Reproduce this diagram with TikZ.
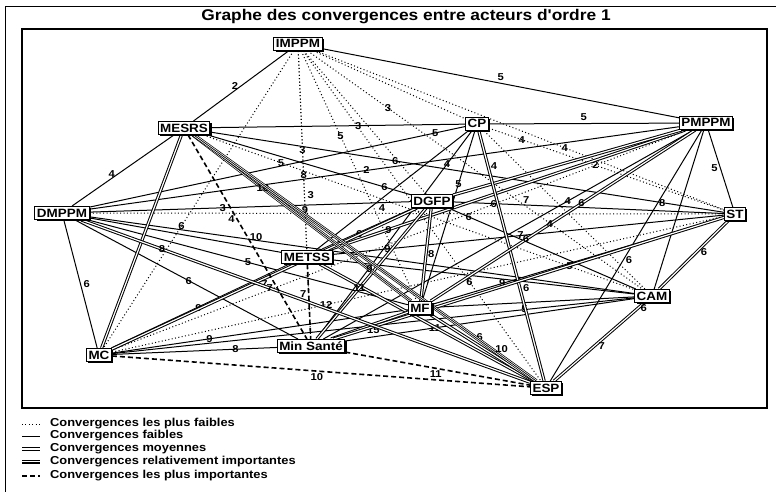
\documentclass[tikz,border=0pt]{standalone}
\usepackage{fontspec}
\newfontfamily\diagfont[FakeStretch=1.12]{Liberation Sans}
\usetikzlibrary{shadows}
\pgfdeclarelayer{edges}
\pgfsetlayers{edges,main}

\tikzset{
  actor/.style={draw, line width=1pt, fill=white, inner xsep=2pt, inner ysep=1.5pt,
    text height=9pt, text depth=1pt, font=\diagfont\bfseries\fontsize{12}{13}\selectfont,
    drop shadow={shadow xshift=1.8pt, shadow yshift=-1.8pt, opacity=1, fill=black}},
  lbl/.style={inner sep=0.5pt, font=\diagfont\bfseries\fontsize{10}{10}\selectfont},
  legtext/.style={anchor=west, inner sep=0pt, font=\diagfont\bfseries\fontsize{11.5}{12}\selectfont},
  vweak/.style={draw, line width=1pt, dash pattern=on 1pt off 2.4pt},
  weak/.style={draw, line width=1pt},
  mid/.style={draw, double, line width=1pt, double distance=1.2pt},
  relimp/.style={preaction={draw=black, line width=3.6pt}, draw=white, line width=2.2pt,
    postaction={draw=black, line width=0.7pt}},
  strong/.style={draw, line width=1.6pt, dash pattern=on 5pt off 3pt},
}

\begin{document}
\begin{tikzpicture}[x=1pt,y=-1pt]
\path[use as bounding box] (0,0) rectangle (776,492);

% frames and title
\draw[line width=1pt] (5,492) -- (5,7) -- (776,7);
\draw[line width=1.3pt] (22,29) rectangle (767,408);
\node[font=\diagfont\bfseries\fontsize{15.5}{16}\selectfont, inner sep=0pt] (title) at (406,17) {Graphe des convergences entre acteurs d'ordre 1};

% actors
\node[actor] (imppm) at (298,44) {IMPPM};
\node[actor] (mesrs) at (184,128) {MESRS};
\node[actor] (cp) at (477,124) {CP};
\node[actor] (pmppm) at (706,123) {PMPPM};
\node[actor] (dmppm) at (62,213) {DMPPM};
\node[actor] (dgfp) at (432,201) {DGFP};
\node[actor] (st) at (735,214) {ST};
\node[actor] (metss) at (307,257) {METSS};
\node[actor] (mf) at (420,308) {MF};
\node[actor] (cam) at (652,296) {CAM};
\node[actor] (mc) at (99,355) {MC};
\node[actor] (minsante) at (311,346) {Min Sant\'e};
\node[actor] (esp) at (546,388) {ESP};

\begin{pgfonlayer}{edges}
% convergences les plus faibles
\path[vweak] (imppm) -- (cp);
\path[vweak] (imppm) -- (dgfp);
\path[vweak] (imppm) -- node[lbl,pos=.5]{3} node[lbl,pos=.8]{9} (metss);
\path[vweak] (imppm) -- node[lbl,pos=.43]{8} node[lbl,pos=.5,right=2pt]{3} (minsante);
\path[vweak] (imppm) -- node[lbl,pos=.34]{5} (mf);
\path[vweak] (imppm) -- node[lbl,pos=.7]{6} (esp);
\path[vweak] (imppm) -- node[lbl,pos=.24]{3} (cam);
\path[vweak] (imppm) -- node[lbl,pos=.61]{4} (st);
\path[vweak] (imppm) -- node[lbl,pos=.59]{6} (mc);
\path[vweak] (mesrs) -- node[lbl,pos=.18]{5} node[lbl,pos=.85]{5} (cam);
\path[vweak] (dmppm) -- node[lbl,pos=.21,above=1pt]{3} (st);
\path[vweak] (cp) -- node[lbl,pos=.14]{4} (st);
\path[vweak] (cp) -- (cam);
\path[vweak] (mc) -- node[lbl,pos=.35]{12} (st);
\path[vweak] (mc) -- node[lbl,pos=.84]{2} (pmppm);

% convergences faibles
\path[weak] (imppm) -- node[lbl,pos=.5,left=2pt]{2} (mesrs);
\path[weak] (imppm) -- node[lbl,pos=.5,above=2pt]{5} (pmppm);
\path[weak] (cp) -- node[lbl,pos=.5,above=2pt]{5} (pmppm);
\path[weak] (mesrs) -- node[lbl,pos=.55,left=2pt]{4} (dmppm);
\path[weak] (mesrs) -- node[lbl,pos=.58]{3} (cp);
\path[weak] (mesrs) -- node[lbl,pos=.36]{6} node[lbl,pos=.88]{8} (st);
\path[weak] (mesrs) -- node[lbl,pos=.87]{6} (dgfp);
\path[weak] (dmppm) -- node[lbl,pos=.5,right=2pt]{6} (mc);
\path[weak] (dmppm) -- node[lbl,pos=.92]{5} (cp);
\path[weak] (dmppm) -- node[lbl,pos=.47]{2} (pmppm);
\path[weak] (dmppm) -- node[lbl,pos=.91,below=1pt]{4} (dgfp);
\path[weak] (dmppm) -- (metss);
\path[weak] (dmppm) -- node[lbl,pos=.51]{6} (minsante);
\path[weak] (dmppm) -- node[lbl,pos=.5]{5} (mf);
\path[weak] (dmppm) -- (cam);
\path[weak] (mc) -- node[lbl,pos=.75]{8} (minsante);
\path[weak] (mc) -- node[lbl,pos=.33]{9} (mf);
\path[weak] (mc) -- node[lbl,pos=.79]{5} (cam);
\path[weak] (minsante) -- node[lbl,pos=.84]{4} (cp);
\path[weak] (minsante) -- node[lbl,pos=.66]{4} (pmppm);
\path[weak] (minsante) -- node[lbl,pos=.31]{11} (cam);
\path[weak] (metss) -- node[lbl,pos=.14]{9} node[lbl,pos=.48]{7} (st);
\path[weak] (metss) -- (cp);
\path[weak] (metss) -- (cam);
\path[weak] (cp) -- node[lbl,pos=.31]{5} (mf);
\path[weak] (dgfp) -- node[lbl,pos=.15]{6} node[lbl,pos=.27,above=1pt]{7} (st);
\path[weak] (dgfp) -- node[lbl,pos=.11]{6} (cam);
\path[weak] (pmppm) -- node[lbl,pos=.5,left=2pt]{5} (st);
\path[weak] (pmppm) -- (cam);
\path[weak] (pmppm) -- node[lbl,pos=.52,right=2pt]{6} (esp);
\path[weak] (mf) -- node[lbl,pos=.24]{9} (st);
\path[weak] (mf) -- (cam);

% convergences moyennes
\path[mid] (mesrs) -- (mc);
\path[mid] (metss) -- node[lbl,pos=.39]{6} (dgfp);
\path[mid] (metss) -- node[lbl,pos=.17]{9} (pmppm);
\path[mid] (metss) -- (esp);
\path[mid] (mc) -- node[lbl,pos=.48]{9} (metss);
\path[mid] (mc) -- node[lbl,pos=.5,below=1pt]{7} (dgfp);
\path[mid] (dgfp) -- (pmppm);
\path[mid] (dgfp) -- node[lbl,pos=.5,right=1pt]{8} (mf);
\path[mid] (cp) -- node[lbl,pos=.14,right=2pt]{4} node[lbl,pos=.63,right=2pt]{6} (esp);
\path[mid] (cam) -- node[lbl,pos=.06,right=1pt]{6} node[lbl,pos=.55,right=3pt]{7} (esp);
\path[mid] (st) -- node[lbl,pos=.45,right=3pt]{6} (cam);
\path[mid] (minsante) -- node[lbl,pos=.55,below=1pt]{15} (mf);
\path[mid] (minsante) -- node[lbl,pos=.39]{11} (dgfp);
\path[mid] (minsante) -- (st);
\path[mid] (mf) -- node[lbl,pos=.42,above right=1pt]{6} (esp);
\path[mid] (mf) -- node[lbl,pos=.36]{6} node[lbl,pos=.45]{4} node[lbl,pos=.57]{6} (pmppm);
\path[mid] (dmppm) -- node[lbl,pos=.18]{8} node[lbl,pos=.42]{7} (esp);

% convergences relativement importantes
\path[relimp] (mesrs) -- node[lbl,pos=.32]{10} node[lbl,pos=.81]{9} (mf);
\path[relimp] (mesrs) -- node[lbl,pos=.87,right=2pt]{10} (esp);

% convergences les plus importantes
\path[strong] (mesrs) -- node[lbl,pos=.41,left=1pt]{4} node[lbl,pos=.5,right=1pt]{10} (minsante);
\path[strong] (mc) -- node[lbl,pos=.49,below=1pt]{10} (esp);
\path[strong] (minsante) -- node[lbl,pos=.49,below=1pt]{11} (esp);
\path[strong] (metss) -- node[lbl,pos=.4,left=1pt]{7} (minsante);
\end{pgfonlayer}

% legend
\coordinate (s1) at (22,424); \coordinate (e1) at (40,424);
\coordinate (s2) at (22,436); \coordinate (e2) at (40,436);
\coordinate (s3) at (22,449); \coordinate (e3) at (40,449);
\coordinate (s4) at (22,462); \coordinate (e4) at (40,462);
\coordinate (s5) at (22,476); \coordinate (e5) at (40,476);
\path[vweak] (s1) -- (e1);
\path[weak] (s2) -- (e2);
\path[mid] (s3) -- (e3);
\path[relimp] (s4) -- (e4);
\path[strong] (s5) -- (e5);
\node[legtext] (leg1) at (50,424) {Convergences les plus faibles};
\node[legtext] (leg2) at (50,436) {Convergences faibles};
\node[legtext] (leg3) at (50,449) {Convergences moyennes};
\node[legtext] (leg4) at (50,462) {Convergences relativement importantes};
\node[legtext] (leg5) at (50,476) {Convergences les plus importantes};
\end{tikzpicture}
\end{document}
